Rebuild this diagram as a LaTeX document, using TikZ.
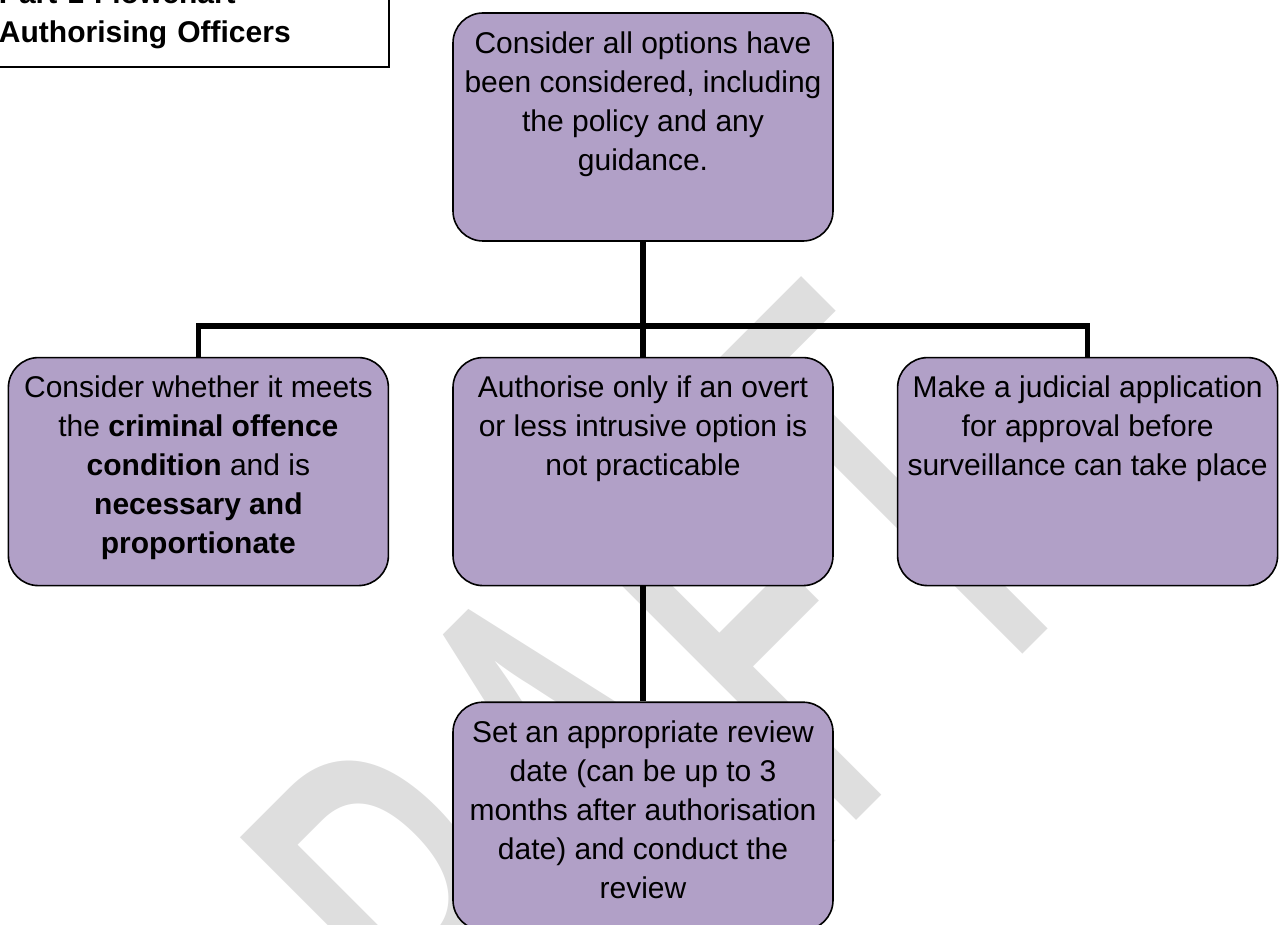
\documentclass[tikz,border=0pt]{standalone}
\usepackage{fontspec}
\setmainfont{Liberation Sans}
\newfontfamily\wmfont{Carlito}
\usetikzlibrary{positioning}
\definecolor{boxlilac}{RGB}{177,160,199}
\definecolor{wmgrey}{RGB}{222,222,222}
\newcommand{\boxtext}[1]{\parbox[c][114pt][t]{186pt}{\centering\vspace*{6.4pt}\strut#1}}

\begin{document}
\begin{tikzpicture}[node distance=57.5pt and 31.5pt,
  stepbox/.style={draw,line width=0.8pt,fill=boxlilac,rounded corners=15pt,
    minimum width=190pt,minimum height=114pt,inner sep=0pt,
    font=\fontsize{15}{19.5}\selectfont},
  link/.style={line width=2.8pt},
  titlebox/.style={draw,line width=1pt,fill=white,align=left,text width=240pt,
    inner xsep=0pt,inner ysep=9.3pt,font=\fontsize{15}{19.5}\selectfont\bfseries}]
\useasboundingbox (0,0) rectangle (639.5pt,-462.5pt);
\clip (0,0) rectangle (639.5pt,-462.5pt);
% watermark behind everything
\node[text=wmgrey,font=\wmfont\fontsize{200}{200}\selectfont,rotate=45,
  anchor=base west,inner sep=0pt] (wm) at (172.75pt,-665.75pt) {\scalebox{1}[1.65]{DRAFT}};
\node[titlebox,anchor=south east] (title) at (195pt,-34pt)
  {\hspace*{45pt}Part 1 Flowchart\\\hspace*{45pt}Authorising Officers};
\node[stepbox] (opts) at (321.5pt,-63.5pt)
  {\boxtext{Consider all options have\\been considered, including\\the policy and any\\guidance.}};
\node[stepbox,below=of opts] (auth)
  {\boxtext{Authorise only if an overt\\or less intrusive option is\\not practicable}};
\node[stepbox,left=of auth] (crim)
  {\boxtext{Consider whether it meets\\the \textbf{criminal offence}\\\textbf{condition} and is\\\textbf{necessary and}\\\textbf{proportionate}}};
\node[stepbox,right=of auth] (judi)
  {\boxtext{Make a judicial application\\for approval before\\surveillance can take place}};
\node[stepbox,below=of auth] (review)
  {\boxtext{Set an appropriate review\\date (can be up to 3\\months after authorisation\\date) and conduct the\\review}};
\coordinate[below=42pt of opts.south] (split);
\draw[link] (opts) -- (split);
\draw[link] (crim.north) |- (split) -| (judi.north);
\draw[link] (split) -- (auth);
\draw[link] (auth) -- (review);
\end{tikzpicture}
\end{document}
